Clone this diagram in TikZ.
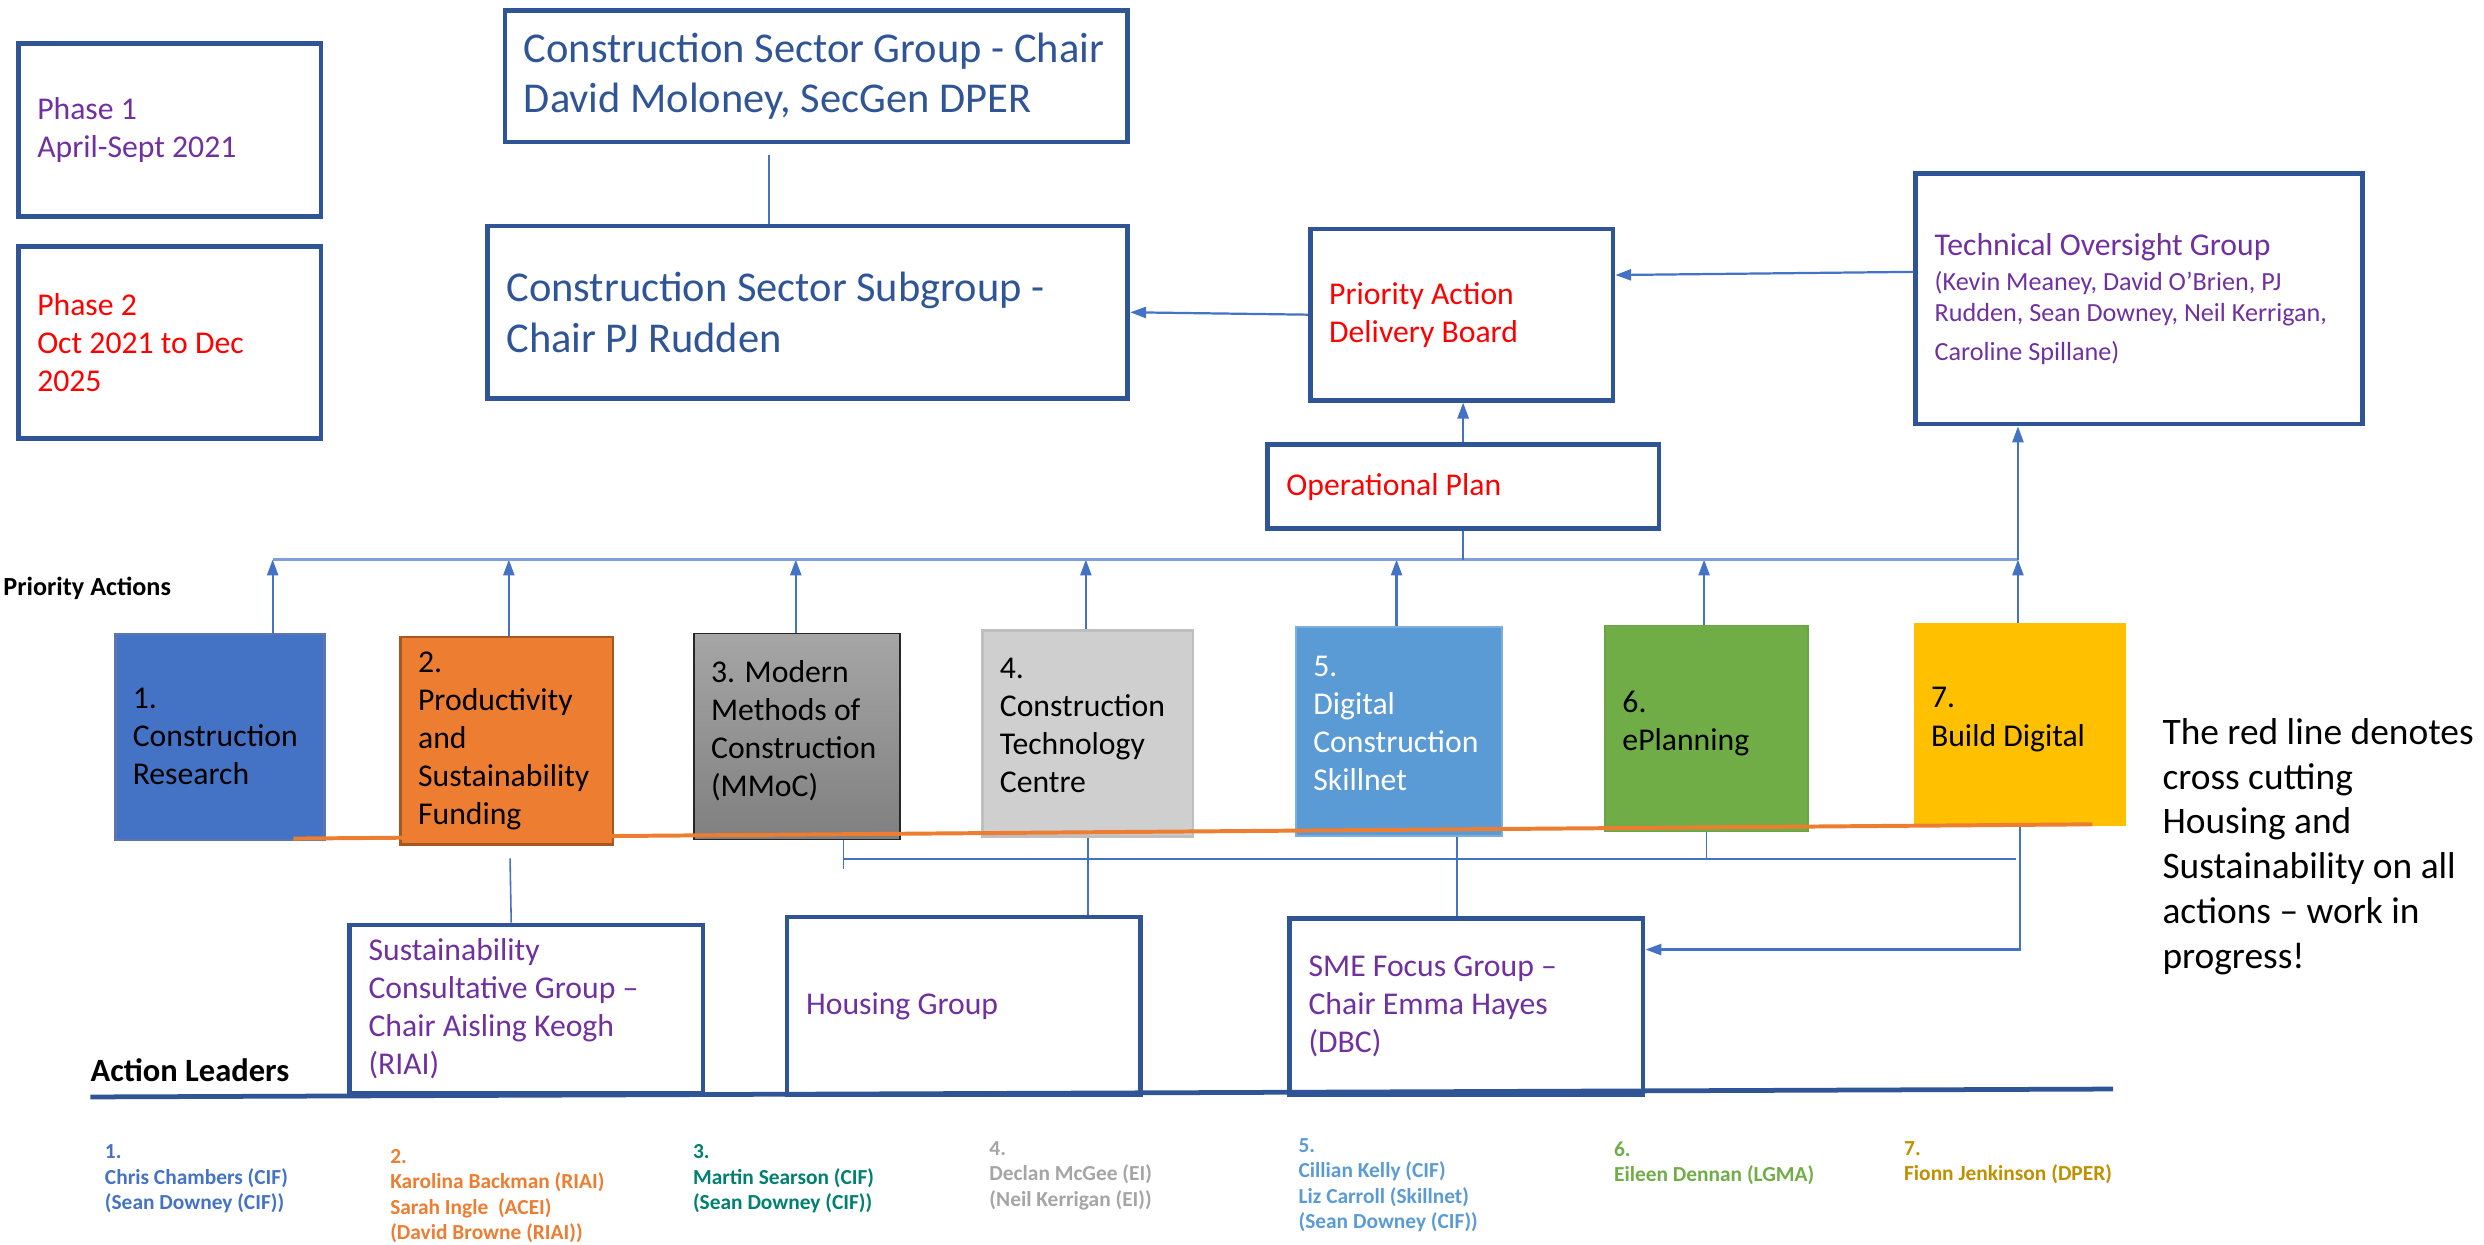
\documentclass[tikz,border=0pt]{standalone}
\usepackage{fontspec}
\setmainfont{Carlito}
\usetikzlibrary{arrows.meta,positioning}
\definecolor{boxblue}{HTML}{2F5597}
\definecolor{linkc}{HTML}{4472C4}
\definecolor{busc}{HTML}{7F9FDB}
\definecolor{purp}{HTML}{7030A0}
\definecolor{redc}{HTML}{FF0000}
\definecolor{gold}{HTML}{FFC000}
\definecolor{pacol1}{HTML}{4472C4}
\definecolor{pacol2}{HTML}{ED7D31}
\definecolor{pacol3}{HTML}{00806F}
\definecolor{pacol4}{HTML}{A5A5A5}
\definecolor{pacol5}{HTML}{5B9BD5}
\definecolor{pacol6}{HTML}{70AD47}
\definecolor{pacol7}{HTML}{BF9000}

\begin{document}
\begin{tikzpicture}[x=1pt,y=-1pt,
     grp/.style={draw=boxblue,line width=3pt,anchor=north west,align=flush left,inner xsep=12pt,inner ysep=0pt},
     pa/.style={anchor=north west,align=flush left,inner xsep=11pt,inner ysep=0pt,font=\fontsize{20}{24}\selectfont},
     arr/.style={draw=linkc,line width=1.4pt,-{Triangle[length=10pt,width=7pt]}},
     link/.style={draw=linkc,line width=1pt},
     lead/.style={anchor=north west,align=flush left,inner sep=0pt,font=\bfseries\fontsize{13.5}{16}\selectfont}
     ]
\useasboundingbox (0,0) rectangle (1567,785);

%Phases
\node[grp,text width=167pt,minimum height=109pt,text=purp,font=\fontsize{20}{24}\selectfont] (ph1) at (10,26) {Phase 1\\April-Sept 2021};
\node[grp,text width=167pt,minimum height=121pt,text=redc,font=\fontsize{20}{24}\selectfont] (ph2) at (10,154) {Phase 2\\Oct 2021 to Dec\\2025};

%Governance boxes
\node[grp,text width=369pt,minimum height=83pt,text=boxblue,font=\fontsize{26.8}{32}\selectfont] (csg) at (317,5) {Construction Sector Group - Chair\\David Moloney, SecGen DPER};
\node[grp,text width=380pt,minimum height=109pt,text=boxblue,font=\fontsize{26.8}{32}\selectfont] (sub) at (306,141) {Construction Sector Subgroup -\\Chair PJ Rudden};
\node[grp,text width=167pt,minimum height=108pt,text=redc,font=\fontsize{20}{24}\selectfont] (padb) at (825,143) {Priority Action\\Delivery Board};
\node[grp,text width=258pt,minimum height=158pt,text=purp,font=\fontsize{20}{24}\selectfont] (tog) at (1207,108)
   {Technical Oversight Group\\[2pt]\fontsize{16.5}{20}\selectfont (Kevin Meaney, David O’Brien, PJ\\Rudden, Sean Downey, Neil Kerrigan,\\Caroline Spillane)};
\node[grp,text width=223pt,minimum height=53pt,text=redc,font=\fontsize{20}{24}\selectfont] (op) at (798,279) {Operational Plan};

\draw[link] (sub.north -| 485,0) -- ++(0,-43);
\draw[arr] (padb.west) -- (sub.east);
\draw[arr] ([yshift=17pt]tog.west) -- ([yshift=25pt]padb.east);
\draw[arr] (op.north) -- (op.north |- padb.south);

%The seven priority actions
\node[pa,fill=pacol1,draw=boxblue!80,line width=1.5pt,text width=110pt,minimum height=130pt] (pa1) at (72,399) {1.\\Construction\\Research};
\node[pa,fill=pacol2,draw=pacol2!70!black,line width=1.5pt,text width=112pt,minimum height=131pt] (pa2) at (252,401) {2.\\Productivity\\and\\Sustainability\\Funding};
\node[pa,top color=black!35,bottom color=black!50,draw=black!85,line width=1.2pt,text width=108pt,minimum height=130pt] (pa3) at (437,399) {3. Modern\\Methods of\\Construction\\(MMoC)\\[-14pt]\mbox{}};
\node[pa,fill=black!19,draw=black!25,line width=1.5pt,text width=111pt,minimum height=130pt] (pa4) at (619,397) {4.\\Construction\\Technology\\Centre\\[-14pt]\mbox{}};
\node[pa,fill=pacol5,draw=pacol5!80!white,line width=1pt,text=white,text width=108pt,minimum height=132pt] (pa5) at (817,395) {5.\\Digital\\Construction\\Skillnet\\[-14pt]\mbox{}};
\node[pa,fill=pacol6,draw=pacol6!95!black,line width=1pt,text width=106pt,minimum height=130pt] (pa6) at (1012,394) {6.\\ePlanning\\[-14pt]\mbox{}};
\node[pa,fill=gold,text width=112pt,minimum height=128pt] (pa7) at (1207,393) {7.\\Build Digital\\[-14pt]\mbox{}};

%Bus to the board
\foreach \i/\x in {1/172,2/321,3/502,4/685,5/881,6/1075,7/1273}
{
   \coordinate (bus\i) at (\x,353);
   \draw[arr] (bus\i |- pa\i.north) -- (bus\i);
}
\draw[draw=busc,line width=1.4pt] (bus1) -- (bus7);
\draw[link] (op.south) -- (op.south |- bus1);
\draw[arr] (bus7) -- (bus7 |- tog.south);

\node[anchor=west,inner sep=0pt,font=\bfseries\fontsize{16.5}{19}\selectfont] (palbl) at (2,371) {Priority Actions};

%Cross cutting line
\draw[pacol2,line width=2.5pt] (185,529) -- (1320,520);

%Sub groups
\node[grp,text width=199pt,minimum height=106pt,text=purp,font=\fontsize{20}{24}\selectfont] (scg) at (219,582) {Sustainability\\Consultative Group –\\Chair Aisling Keogh\\(RIAI)};
\node[grp,text width=199pt,minimum height=112pt,text=purp,font=\fontsize{20}{24}\selectfont] (hg) at (495,577) {Housing Group};
\node[grp,text width=199pt,minimum height=111pt,text=purp,font=\fontsize{20}{24}\selectfont] (sme) at (812,578) {SME Focus Group –\\Chair Emma Hayes\\(DBC)};

\coordinate (hub3) at (532,542);
\coordinate (hub7) at (1272,542);
\draw[link] ([shift={(2,8)}]pa2.south) -- ([xshift=-9.5pt]scg.north);
\draw[link] (pa4.south) -- (pa4.south |- hg.north);
\draw[link] ([xshift=-6pt]sme.north) -- ([xshift=-6pt]sme.north |- pa5.south);
\draw[link] (hub3 |- pa3.south) -- ++(0,18);
\draw[link] (hub3) -- (hub7);
\draw[link] (pa6.south) -- (pa6.south |- hub3);
\draw[arr] ([xshift=0pt]pa7.south) |- ([yshift=36pt]sme.east);

%Action leaders
\node[anchor=west,inner sep=0pt,font=\bfseries\fontsize{20.5}{24}\selectfont] (allbl) at (57,675) {Action Leaders};
\draw[boxblue,line width=3pt] (57,692) -- (1333,687);

\foreach [count=\i] \x/\y/\names in {66/722/{Chris Chambers (CIF)\\(Sean Downey (CIF))},
      246/725/{Karolina Backman (RIAI)\\Sarah Ingle\ \ (ACEI)\\(David Browne (RIAI))},
      437/722/{Martin Searson (CIF)\\(Sean Downey (CIF))},
      624/720/{Declan McGee (EI)\\(Neil Kerrigan (EI))},
      819/718/{Cillian Kelly (CIF)\\Liz Carroll (Skillnet)\\(Sean Downey (CIF))},
      1018/720/{Eileen Dennan (LGMA)},
      1201/720/{Fionn Jenkinson (DPER)}}
{
   \node[lead,text=pacol\i] (ld\i) at (\x,\y) {\i.\\\names};
}

%Note on the right
\node[anchor=west,align=flush left,inner sep=0pt,font=\fontsize{23.6}{28.2}\selectfont] (note) at (1364,534)
   {The red line denotes\\cross cutting\\Housing and\\Sustainability on all\\actions – work in\\progress!};
\end{tikzpicture}
\end{document}
